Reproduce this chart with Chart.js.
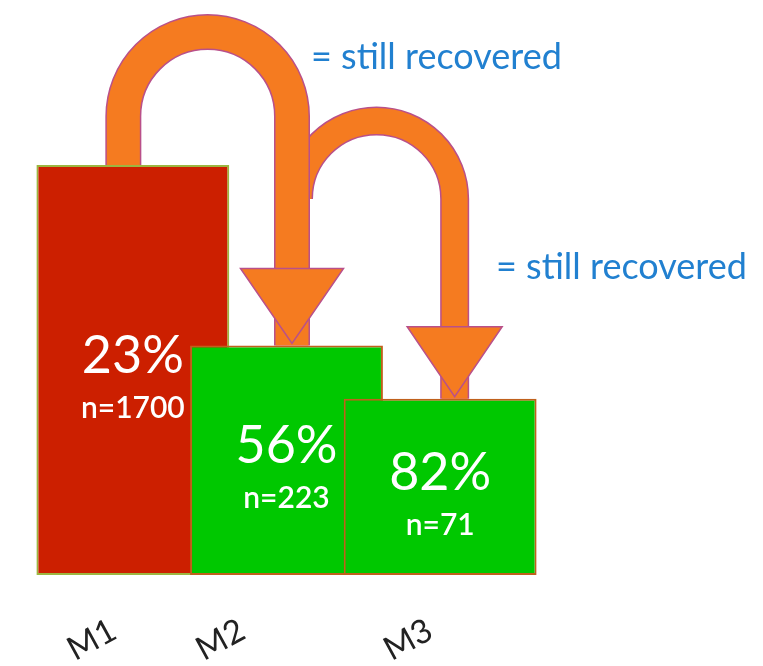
<!DOCTYPE html>
<html>
<head>
<meta charset="utf-8">
<title>Still recovered</title>
<script src="https://cdn.jsdelivr.net/npm/chart.js@4.4.1/dist/chart.umd.min.js"></script>
<style>
  html, body { margin: 0; padding: 0; background: #ffffff; }
  #wrap { width: 763px; height: 666px; }
</style>
</head>
<body>
<div id="wrap"><canvas id="chart" width="763" height="666"></canvas></div>
<script>
// data
const categories = ["M1", "M2", "M3"];
const barHeights = [100, 56, 43];      // relative box heights, M1 = 100
const recoveredPct = [23, 56, 82];
const sampleSizes = [1700, 223, 71];
const arrowLabels = ["= still recovered", "= still recovered"];

// styling
const fillColors = ["#cc1f00", "#00c800", "#00c800"];
const edgeColors = ["#9cb640", "#c0601c", "#c0601c"];
const ORANGE = "#f57b20";
const ARROW_EDGE = "#b9508a";
const TEXT_BLUE = "#2180d0";
const FONT = "Lato, 'Open Sans', sans-serif";

// hooked arrows from one box to the next (offsets from box centres)
const arrows = [
    { from: 0, to: 1, fromDx: -9.5, toDx: 5.5, top: 32, width: 33, headW: 103, headL: 75, fromBox: true },
    { from: 1, to: 2, fromDx: 12, toDx: 14.5, top: 121, width: 26, headW: 95, headL: 70, fromBox: false }
];
const labelSpots = [{ x: 311, y: 57 }, { x: 496, y: 267 }];
const tickShift = [-41, -66, -32];

function drawArrow(ctx, bars, a) {
    const x1 = bars[a.from].x + a.fromDx;
    const x2 = bars[a.to].x + a.toDx;
    const r = (x2 - x1) / 2;
    const cx = x1 + r;
    const cy = a.top + r;
    const startY = a.fromBox ? bars[a.from].y : cy;
    const tipY = bars[a.to].y - 2;
    const baseY = tipY - a.headL;

    ctx.beginPath();
    ctx.moveTo(x1, startY);
    ctx.lineTo(x1, cy);
    ctx.arc(cx, cy, r, Math.PI, 0);
    ctx.lineTo(x2, bars[a.to].y);
    ctx.lineCap = "butt";
    ctx.lineJoin = "miter";
    ctx.strokeStyle = ARROW_EDGE;
    ctx.lineWidth = a.width + 3;
    ctx.stroke();
    ctx.strokeStyle = ORANGE;
    ctx.lineWidth = a.width;
    ctx.stroke();

    ctx.beginPath();
    ctx.moveTo(x2 - a.headW / 2, baseY);
    ctx.lineTo(x2 + a.headW / 2, baseY);
    ctx.lineTo(x2, tipY);
    ctx.closePath();
    ctx.fillStyle = ORANGE;
    ctx.fill();
    ctx.strokeStyle = ARROW_EDGE;
    ctx.lineWidth = 1.5;
    ctx.stroke();
}

const overlay = {
    id: "overlay",
    afterDatasetsDraw(chart) {
        const ctx = chart.ctx;
        const bars = chart.getDatasetMeta(0).data;
        ctx.save();

        // numbers inside the boxes
        bars.forEach((bar, i) => {
            const mid = (bar.y + bar.base) / 2;
            ctx.fillStyle = "#ffffff";
            ctx.textAlign = "center";
            ctx.textBaseline = "middle";
            ctx.font = "52px " + FONT;
            ctx.fillText(recoveredPct[i] + "%", bar.x, mid - 14);
            ctx.font = "600 30px " + FONT;
            ctx.fillText("n=" + sampleSizes[i], bar.x, mid + 38);
        });

        // second arrow first so the first one sits on top
        arrows.slice().reverse().forEach(a => drawArrow(ctx, bars, a));

        ctx.fillStyle = TEXT_BLUE;
        ctx.textAlign = "left";
        ctx.textBaseline = "middle";
        ctx.font = "36px " + FONT;
        arrowLabels.forEach((t, i) => ctx.fillText(t, labelSpots[i].x, labelSpots[i].y));

        // tilted category names
        const xs = chart.scales.x;
        ctx.fillStyle = "#222222";
        ctx.textAlign = "center";
        ctx.font = "33px " + FONT;
        categories.forEach((c, i) => {
            ctx.save();
            ctx.translate(xs.getPixelForValue(i) + tickShift[i], 640);
            ctx.rotate(-0.5);
            ctx.fillText(c, 0, 0);
            ctx.restore();
        });

        ctx.restore();
    }
};

new Chart(document.getElementById("chart"), {
    type: "bar",
    data: {
        labels: categories,
        datasets: [{
            data: barHeights,
            backgroundColor: fillColors,
            borderColor: edgeColors,
            borderWidth: 2,
            borderSkipped: false,
            categoryPercentage: 1,
            barPercentage: 1.255,
            clip: false
        }]
    },
    options: {
        responsive: false,
        animation: false,
        events: [],
        layout: { padding: { left: 56, right: 246, top: 165, bottom: 91 } },
        scales: {
            x: { display: false },
            y: { display: false, min: 0, max: 100 }
        },
        plugins: {
            legend: { display: false },
            tooltip: { enabled: false }
        }
    },
    plugins: [overlay]
});
</script>
</body>
</html>
